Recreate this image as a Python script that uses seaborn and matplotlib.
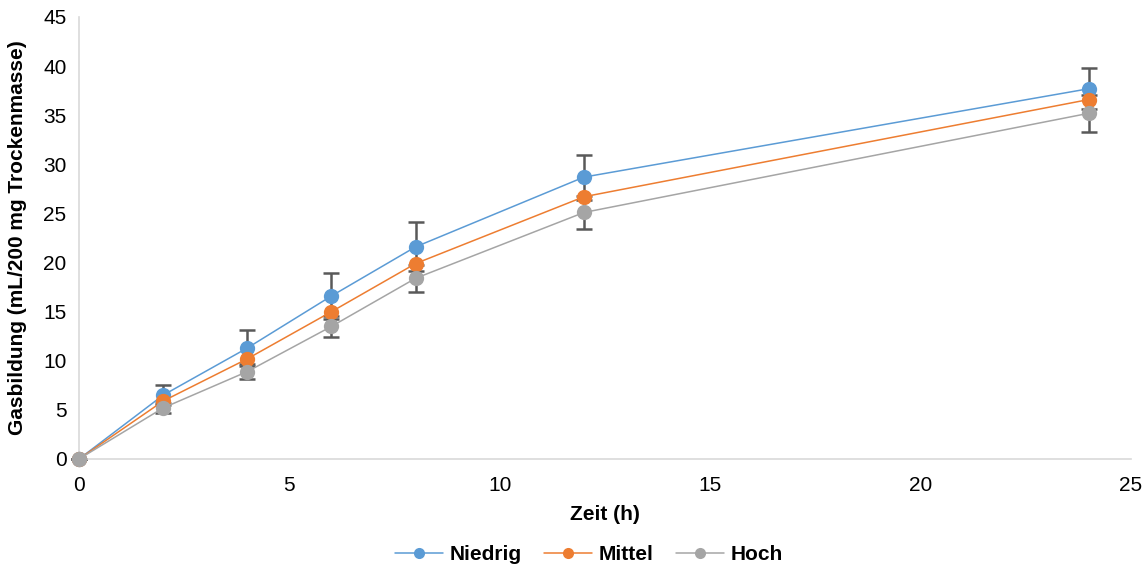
import numpy as np
import pandas as pd
import matplotlib
matplotlib.use('Agg')
import matplotlib.pyplot as plt
import seaborn as sns

# data
zeit = [0, 2, 4, 6, 8, 12, 24]
niedrig = [0, 6.5, 11.3, 16.6, 21.6, 28.7, 37.7]
mittel = [0, 5.9, 10.2, 15.0, 19.9, 26.7, 36.6]
hoch = [0, 5.2, 8.9, 13.5, 18.4, 25.1, 35.2]
err_niedrig = [0, 1.0, 1.8, 2.3, 2.5, 2.3, 2.1]
err_hoch = [0, 0.5, 0.8, 1.1, 1.4, 1.7, 1.9]

gruppen = ['Niedrig', 'Mittel', 'Hoch']
farben = ['#5B9BD5', '#ED7D31', '#A5A5A5']

df = pd.DataFrame({
    'Zeit': zeit * 3,
    'Gas': niedrig + mittel + hoch,
    'Gruppe': [g for g in gruppen for _ in zeit],
})

sns.set_style('white')
plt.rcParams['font.family'] = ['Liberation Sans', 'DejaVu Sans']
plt.rcParams['text.color'] = 'black'

fig, ax = plt.subplots(figsize=(11.45, 5.7), dpi=100)
fig.subplots_adjust(left=79/1145, right=1131/1145, top=1-17/570, bottom=1-459/570)

# error bars first so the markers sit on top
ax.errorbar(zeit, niedrig, yerr=err_niedrig, fmt='none', ecolor='#595959',
            elinewidth=1.8, capsize=6, capthick=1.8, zorder=1)
ax.errorbar(zeit, hoch, yerr=err_hoch, fmt='none', ecolor='#595959',
            elinewidth=1.8, capsize=6, capthick=1.8, zorder=1)

sns.lineplot(data=df, x='Zeit', y='Gas', hue='Gruppe', hue_order=gruppen,
             palette=farben, marker='o', markersize=11, markeredgewidth=0,
             linewidth=1.1, ax=ax, zorder=3, legend=True)
for ln in ax.lines:
    ln.set_clip_on(False)

ax.set_xlim(0, 25)
ax.set_ylim(0, 45)
ax.set_xticks([0, 5, 10, 15, 20, 25])
ax.set_yticks(range(0, 46, 5))
ax.tick_params(labelsize=15, length=0, colors='black')
ax.tick_params(axis='x', pad=12)
ax.tick_params(axis='y', pad=9)

for s in ['top', 'right']:
    ax.spines[s].set_visible(False)
for s in ['left', 'bottom']:
    ax.spines[s].set_color('#D9D9D9')
    ax.spines[s].set_linewidth(1.2)

ax.set_xlabel('Zeit (h)', fontsize=15, fontweight='bold', color='black', va='center')
ax.set_ylabel('Gasbildung (mL/200 mg Trockenmasse)', fontsize=15, fontweight='bold',
              color='black', va='center')
ax.xaxis.set_label_coords(0.5, (459 - 515) / 442)
ax.yaxis.set_label_coords((18 - 79) / 1052, 0.5)

handles, labels = ax.get_legend_handles_labels()
for h in handles:
    h.set_markersize(8)
leg = ax.legend(handles, labels, loc='center',
                bbox_to_anchor=((589 - 79) / 1052, (459 - 555) / 442),
                ncol=3, frameon=False, handlelength=2.3, columnspacing=1.1,
                handletextpad=0.3, prop={'weight': 'bold', 'size': 15})

plt.savefig('out.png', dpi=100)
